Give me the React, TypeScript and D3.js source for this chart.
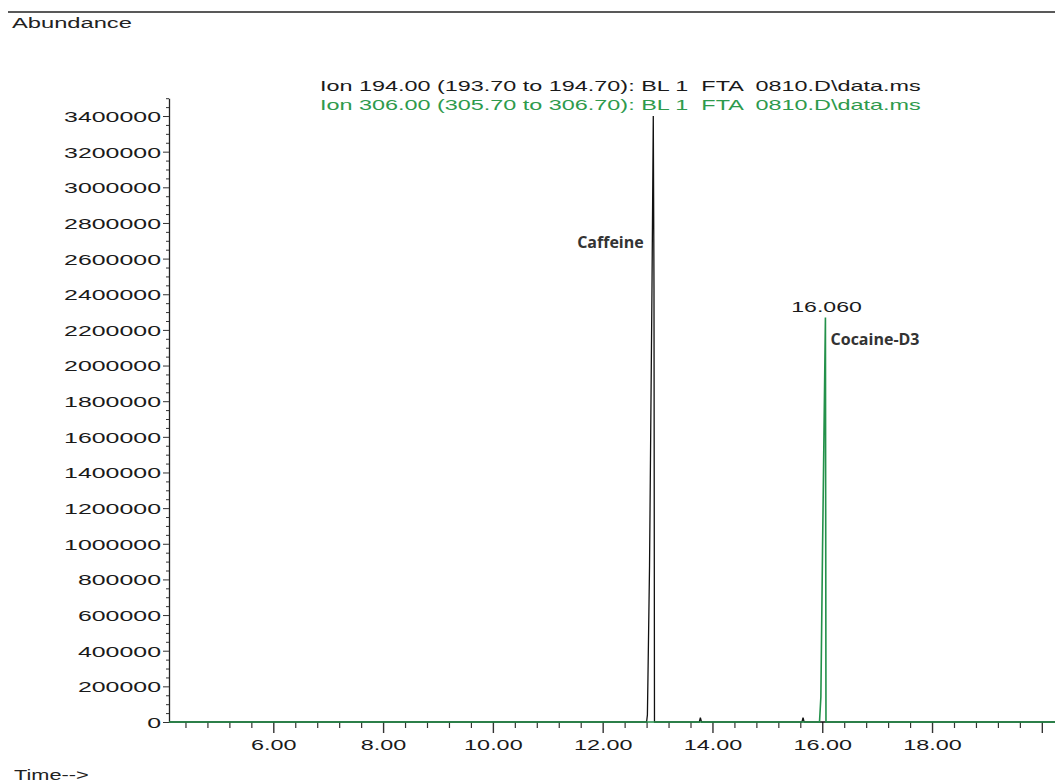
import { useEffect, useRef } from "react";
import * as d3 from "d3";

// Ion 194.00 trace (black) - retention time (min) and abundance
const ion194Time = [4.1, 12.8, 12.815, 12.825, 12.854, 12.898, 12.922, 12.935, 12.944, 12.96, 13.76, 13.78, 13.8, 15.63, 15.65, 15.67, 20.24];
const ion194Abund = [0, 0, 40000, 250000, 880000, 2420000, 3400000, 2430000, 0, 0, 0, 25000, 0, 0, 25000, 0, 0];

// Ion 306.00 trace (green)
const ion306Time = [4.1, 15.95, 15.975, 16.005, 16.058, 16.068, 20.24];
const ion306Abund = [0, 0, 140000, 960000, 2270000, 0, 0];

const yTicks = [0, 200000, 400000, 600000, 800000, 1000000, 1200000, 1400000, 1600000, 1800000, 2000000, 2200000, 2400000, 2600000, 2800000, 3000000, 3200000, 3400000];
const xMajorTicks = [6, 8, 10, 12, 14, 16, 18, 20];
const xTickLabels = ["6.00", "8.00", "10.00", "12.00", "14.00", "16.00", "18.00", ""];

const legendText = [
  "Ion 194.00 (193.70 to 194.70): BL 1  FTA  0810.D\\data.ms",
  "Ion 306.00 (305.70 to 306.70): BL 1  FTA  0810.D\\data.ms",
];
const legendColors = ["#1a1a1a", "#2e9a4c"];

const peakTime = [12.93, 16.06];
const peakNames = ["Caffeine", "Cocaine-D3"];

const FONT = "'Liberation Sans', Arial, sans-serif";
const SX = 1.54; // the original screenshot is stretched horizontally

const App = () => {
  const svgRef = useRef<SVGSVGElement>(null);

  useEffect(() => {
    const W = 1055;
    const H = 783;
    const svg = d3.select(svgRef.current).attr("width", W).attr("height", H);
    svg.selectAll("*").remove();

    const x = d3.scaleLinear().domain([4.1, 20.24]).range([169, 1055]);
    const y = d3.scaleLinear().domain([0, 3500000]).range([722, 98.2]);

    // top rule
    svg.append("line").attr("x1", 8).attr("x2", W).attr("y1", 12).attr("y2", 12)
      .attr("stroke", "#222").attr("stroke-width", 1.3);

    const stretched = (sel: any, tx: number, ty: number, size: number, sx = SX) =>
      sel.attr("transform", `translate(${tx},${ty}) scale(${sx},1)`)
        .attr("font-family", FONT).attr("font-size", size);

    stretched(svg.append("text").text("Abundance").attr("fill", "#222"), 12, 28, 15, 1.58);
    stretched(svg.append("text").text("Time-->").attr("fill", "#222"), 14, 780, 15, 1.45);

    // y axis
    const yMinor = d3.range(0, 3500001, 50000).filter((v) => v % 200000 !== 0);
    svg.append("g").attr("transform", "translate(169,0)")
      .call(d3.axisLeft(y).tickValues(yMinor).tickSize(3).tickFormat(() => ""))
      .call((g) => g.select(".domain").remove())
      .selectAll("line").attr("stroke", "#333");

    const yAxis = svg.append("g").attr("transform", "translate(169,0)")
      .call(d3.axisLeft(y).tickValues(yTicks).tickSize(6).tickSizeOuter(0).tickFormat(d3.format("d")));
    yAxis.select(".domain").attr("stroke", "#222").attr("stroke-width", 1.3);
    yAxis.selectAll("line").attr("stroke", "#333");
    yAxis.selectAll("text")
      .attr("x", null).attr("dy", "0.36em")
      .attr("transform", `translate(-8,0) scale(1.66,1)`)
      .attr("font-family", FONT).attr("font-size", 15).attr("fill", "#1a1a1a");

    // x axis
    const xMinor = d3.range(4.4, 20.01, 0.4).filter((v) => Math.abs(v / 2 - Math.round(v / 2)) > 0.01);
    svg.append("g").attr("transform", "translate(0,722)")
      .call(d3.axisBottom(x).tickValues(xMinor).tickSize(6).tickFormat(() => ""))
      .call((g) => g.select(".domain").remove())
      .selectAll("line").attr("stroke", "#333").attr("stroke-width", 1.2);

    const xAxis = svg.append("g").attr("transform", "translate(0,722)")
      .call(d3.axisBottom(x).tickValues(xMajorTicks).tickSize(11)
        .tickFormat((_, i) => xTickLabels[i]));
    xAxis.select(".domain").remove();
    xAxis.selectAll("line").attr("stroke", "#333").attr("stroke-width", 1.4);
    xAxis.selectAll("text")
      .attr("y", null).attr("dy", null)
      .attr("transform", `translate(0,28) scale(1.56,1)`)
      .attr("font-family", FONT).attr("font-size", 15).attr("fill", "#1a1a1a");

    // traces
    const line = d3.line<{ t: number; v: number }>().x((d) => x(d.t)).y((d) => y(d.v));
    const ion194 = ion194Time.map((t, i) => ({ t, v: ion194Abund[i] }));
    const ion306 = ion306Time.map((t, i) => ({ t, v: ion306Abund[i] }));

    svg.append("path").datum(ion194).attr("d", line).attr("fill", "none")
      .attr("stroke", "#111").attr("stroke-width", 1.3);
    svg.append("path").datum(ion306).attr("d", line).attr("fill", "none")
      .attr("stroke", "#23914a").attr("stroke-width", 1.6);

    // legend
    legendText.forEach((txt, i) => {
      stretched(svg.append("text").text(txt).attr("fill", legendColors[i])
        .style("white-space", "pre"), 320, 91 + i * 19, 15, 1.56);
    });

    // retention time label on the cocaine-D3 peak
    stretched(svg.append("text").text(d3.format(".3f")(peakTime[1]))
      .attr("fill", "#1a1a1a").attr("text-anchor", "middle"), x(peakTime[1]) + 1, 312, 15);

    // compound names
    svg.append("text").text(peakNames[0]).attr("x", x(peakTime[0]) - 10).attr("y", 248)
      .attr("text-anchor", "end").attr("font-family", "'Open Sans', sans-serif")
      .attr("font-weight", 700).attr("font-size", 16).attr("fill", "#333");
    svg.append("text").text(peakNames[1]).attr("x", x(peakTime[1]) + 5).attr("y", 345)
      .attr("font-family", "'Open Sans', sans-serif")
      .attr("font-weight", 700).attr("font-size", 16).attr("fill", "#333");
  }, []);

  return (
    <svg ref={svgRef} style={{ position: "absolute", left: 0, top: 0, background: "#fff" }}></svg>
  );
};

export default App;
